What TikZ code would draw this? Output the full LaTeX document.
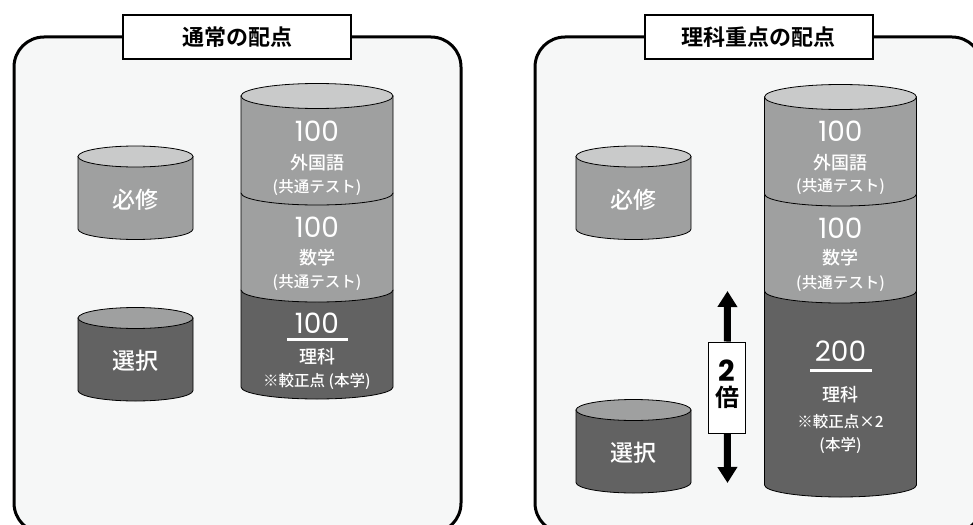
\documentclass[tikz,border=0pt]{standalone}
\usepackage{fontspec}
\setmainfont{Noto Sans CJK JP}[BoldFont={Noto Sans CJK JP Bold}]
\newfontfamily\medfont{Noto Sans CJK JP Medium}
\newfontfamily\numfont{Poppins}
\usetikzlibrary{arrows.meta}
\definecolor{panelbg}{HTML}{F6F7F7}
\definecolor{lightgr}{HTML}{C9CACA}
\definecolor{midgr}{HTML}{9FA0A0}
\definecolor{darkgr}{HTML}{626262}

\begin{document}
\begin{tikzpicture}[x=1pt, y=-1pt, node distance=30pt,
		panel/.style={draw, line width=3pt, fill=panelbg, rounded corners=30pt},
		titlebox/.style={draw, line width=2pt, fill=white, minimum width=228pt, minimum height=44pt, font=\bfseries\fontsize{22}{22}\selectfont},
		seg/.style={draw, line width=0.8pt},
		big/.style={text=white, inner sep=0pt, font=\numfont\fontsize{28}{28}\selectfont},
		subj/.style={text=white, inner sep=0pt, font=\medfont\fontsize{18}{18}\selectfont},
		note/.style={text=white, inner sep=0pt, font=\medfont\fontsize{15.5}{15.5}\selectfont},
		tag/.style={text=white, inner sep=0pt, font=\medfont\fontsize{23}{23}\selectfont},
		uline/.style={white, line width=3pt},
		twobox/.style={draw, line width=1pt, fill=white, minimum width=37pt, minimum height=91pt, inner sep=0pt, text depth=9pt, align=center, font=\bfseries\fontsize{24}{25}\selectfont},
		dbl/.style={line width=7pt, -{Triangle[width=19pt, length=16pt]}}]
		\useasboundingbox (0,0) rectangle (973,524);
		\draw[panel] (14,37) rectangle (461,533);
		\draw[panel] (535,37) rectangle (982,533);
		\node[titlebox] (ltitle) at (237,37) {通常の配点};
		\node[titlebox] (rtitle) at (758.5,37) {理科重点の配点};
		\foreach \cx/\yt/\topc/\bodyc in {135.5/156.5/lightgr/midgr, 135.5/318/midgr/darkgr, 633.5/156.5/lightgr/midgr, 633.5/410/midgr/darkgr}{
			\filldraw[seg, fill=\bodyc] ({\cx-57.5},\yt) -- ({\cx-57.5},{\yt+72.5}) arc[start angle=180, end angle=0, x radius=57.5, y radius=10.5] -- ({\cx+57.5},\yt) -- cycle;
			\filldraw[seg, fill=\topc] (\cx,\yt) ellipse [x radius=57.5, y radius=10.5];
		}
		\foreach \cx/\yt/\yb/\bodyc in {317/290/387/darkgr, 317/193/290/midgr, 317/96/193/midgr, 840.5/291/485/darkgr, 840.5/194/291/midgr, 840.5/97/194/midgr}{
			\filldraw[seg, fill=\bodyc] ({\cx-76},\yt) -- ({\cx-76},\yb) arc[start angle=180, end angle=0, x radius=76, y radius=12] -- ({\cx+76},\yt) -- cycle;
		}
		\foreach \cx/\yt in {317/96, 840.5/97}{
			\filldraw[seg, fill=lightgr] (\cx,\yt) ellipse [x radius=76, y radius=12.5];
		}
		\node[tag] (lreq) at (135.5,200) {必修};
		\node[tag] (lsel) at (135.5,361) {選択};
		\node[tag] (rreq) at (633.5,200) {必修};
		\node[tag] (rsel) at (633.5,453) {選択};
		\node[big] (lfor) at (317,131) {100};
		\node[subj] (lforname) [below of=lfor, node distance=32pt] {外国語};
		\node[note] (lfortest) [below of=lforname, node distance=25pt] {(共通テスト)};
		\node[big] (lmath) at (317,227) {100};
		\node[subj] (lmathname) [below of=lmath, node distance=31pt] {数学};
		\node[note] (lmathtest) [below of=lmathname, node distance=25pt] {(共通テスト)};
		\node[big] (lsci) at (317,323) {100};
		\node[subj] (lsciname) [below of=lsci, node distance=34pt] {理科};
		\node[note] (lscinote) [below of=lsciname, node distance=24pt] {※較正点 (本学)};
		\draw[uline] (287,339) -- (348,339);
		\node[big] (rfor) at (840.5,131) {100};
		\node[subj] (rforname) [below of=rfor, node distance=32pt] {外国語};
		\node[note] (rfortest) [below of=rforname, node distance=24pt] {(共通テスト)};
		\node[big] (rmath) at (840.5,228) {100};
		\node[subj] (rmathname) [below of=rmath, node distance=30pt] {数学};
		\node[note] (rmathtest) [below of=rmathname, node distance=26pt] {(共通テスト)};
		\node[big] (rsci) at (840.5,351) {200};
		\node[subj] (rsciname) [below of=rsci, node distance=44pt] {理科};
		\node[note] (rscinote) [below of=rsciname, node distance=27pt] {※較正点×2};
		\node[note] (rscicampus) [below of=rscinote, node distance=23pt] {(本学)};
		\draw[uline] (810,370) -- (872,370);
		\coordinate (dtop) at (727.5,291);
		\coordinate (dbot) at (727.5,483);
		\node[twobox] (twice) at (727,387.5) {{\numfont\fontsize{29}{25}\selectfont 2}\\倍};
		\draw[dbl] (twice) -- (dtop);
		\draw[dbl] (twice) -- (dbot);
\end{tikzpicture}
\end{document}
